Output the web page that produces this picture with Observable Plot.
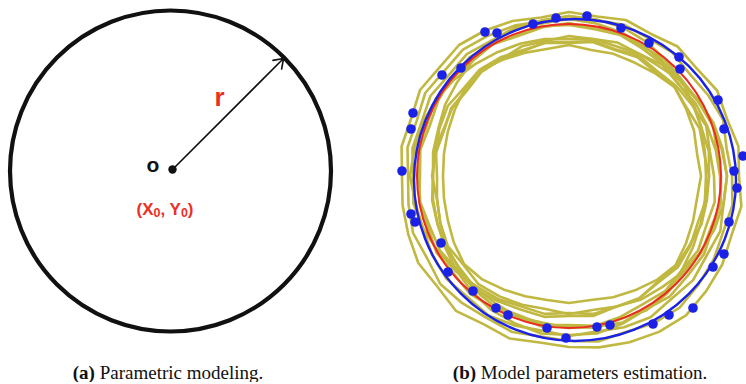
<!DOCTYPE html>
<html>
<head>
<meta charset="utf-8">
<script src="https://cdn.jsdelivr.net/npm/d3@7"></script>
<script src="https://cdn.jsdelivr.net/npm/@observablehq/plot@0.6"></script>
<style>
  html, body { margin: 0; padding: 0; background: #fff; }
  #row { display: flex; width: 746px; }
  .panel { width: 373px; }
  .cap {
    font-family: "Liberation Serif", "Times New Roman", serif;
    font-size: 19px; line-height: 19px; padding-top: 11px;
    color: #111; text-align: center; white-space: nowrap;
  }
</style>
</head>
<body>
<div id="row">
  <div class="panel" id="pa"></div>
  <div class="panel" id="pb"></div>
</div>
<script>
// ---------- (a) parametric model: centre (X0, Y0) and radius r ----------
const modelCircle = [{x: 0, y: 0, r: 160.5}];
const centreDot = [{x: 2, y: 1.5}];
const radiusArrow = [{x1: 2, y1: 1.5, x2: 113, y2: 112.5}];
const modelLabels = [
  {x: -17.5, y: 5.5, text: "o", color: "#111", size: 21},
  {x: 49, y: 73.5, text: "r", color: "#ec2f25", size: 26},
  {x: -5.5, y: -39, text: "(X0, Y0)", color: "#ec2f25", size: 17}
];

// ---------- (b) estimation: fitted circles, edge points, traced contours ----------
const fittedCircle = [{x: 0, y: 0, r: 161}];        // blue fit
const referenceCircle = [{x: -6, y: 4, r: 152}];    // red reference
const edgeX = [-90, -78, -42, -19, 12, 46, 74, 104, 105, 143, 149, 168, 159, 162, 154, 149, 138, 118, 94, 78,
               35, 22, -9, -28, -67, -79, -102, -127, -134, -160, -164, -173, -164, -162, -133, -114];
const edgeY = [148, 147, 156, 162, 164, 152, 137, 123, 111, 80, 51, 24, 9, -8, -42, -74, -87, -128, -135, -144,
               -145, -147, -158, -148, -135, -128, -111, -92, -63, -42, -34, 9, 51, 67, 105, 112];

// traced contours: radius every 10 degrees (from east, anticlockwise) around the reference centre
const contourCentre = {x: -6, y: 4};
const contourRadii = [
  [170,172,168,171,167,169,164,166,162,164,161,165,168,171,169,172,168,170,167,169,171,174,172,176,171,173,169,171,174,177,180,182,179,177,173,175],
  [163,160,164,161,158,161,159,161,158,160,157,160,162,165,163,166,162,164,161,163,166,164,168,166,164,166,163,165,168,166,170,172,169,167,164,166],
  [158,155,152,149,146,148,150,153,155,157,155,158,156,159,157,160,157,159,156,158,155,158,160,158,161,159,157,160,158,161,163,160,162,159,161,157],
  [152,150,153,150,148,151,149,152,150,153,151,149,152,150,153,151,148,151,149,152,150,153,151,154,152,150,153,151,154,152,155,153,150,153,151,154],
  [158,156,154,150,147,142,141,138,139,137,139,141,143,146,150,153,156,157,159,156,155,151,148,144,142,139,140,137,140,139,143,145,149,152,155,157],
  [137,138,141,143,148,151,155,158,159,160,158,157,154,150,146,143,139,138,136,138,140,143,147,151,155,157,160,159,160,157,154,151,147,143,140,138],
  [151,149,147,146,143,145,141,142,139,140,137,138,135,136,133,135,134,137,136,139,140,142,143,146,147,150,149,152,153,156,154,157,155,156,153,154],
  [140,137,139,136,138,135,137,134,136,133,135,134,137,139,137,140,138,135,137,134,137,140,138,141,139,137,135,138,136,139,141,139,142,140,137,139],
  [132,130,133,135,138,134,131,130,128,131,129,131,134,138,136,132,129,127,126,127,129,133,137,135,131,128,126,127,126,129,132,136,139,135,132,130],
  [140,142,141,144,143,146,147,150,149,151,152,150,153,155,152,154,151,153,150,151,148,149,146,147,144,142,143,140,142,139,141,138,140,139,141,140],
  [145,143,146,142,140,137,139,135,137,134,136,133,135,137,134,136,133,135,132,134,137,141,144,148,150,148,151,149,152,150,148,150,147,149,146,148]
];

const COLORS = {ink: "#111", blue: "#1b22e6", red: "#ec2a22", olive: "#c0b840"};

const contours = contourRadii.flatMap((radii, loop) =>
  radii.map((r, k) => {
    const a = (k * 10) * Math.PI / 180;
    return {loop, x: contourCentre.x + r * Math.cos(a), y: contourCentre.y + r * Math.sin(a)};
  })
);
const edgePoints = edgeX.map((x, i) => ({x, y: edgeY[i]}));

const W = 373, H = 352;
const common = {
  width: W, height: H,
  marginTop: 0, marginRight: 0, marginBottom: 0, marginLeft: 0,
  r: {type: "identity"},
  style: {background: "#fff", overflow: "visible"}
};

const plotA = Plot.plot({
  ...common,
  x: {axis: null, domain: [-170, 203]},
  y: {axis: null, domain: [-181.5, 170.5]},
  marks: [
    Plot.dot(modelCircle, {x: "x", y: "y", r: "r", stroke: COLORS.ink, strokeWidth: 4.2, fill: "none"}),
    Plot.arrow(radiusArrow, {x1: "x1", y1: "y1", x2: "x2", y2: "y2", stroke: COLORS.ink, strokeWidth: 1.6, headLength: 10, headAngle: 70}),
    Plot.dot(centreDot, {x: "x", y: "y", r: 4.2, fill: COLORS.ink}),
    Plot.text(modelLabels, {x: "x", y: "y", text: "text", fill: "color", fontSize: "size",
      fontWeight: "bold", fontFamily: "Liberation Sans, Arial, sans-serif"})
  ]
});

// the zeros of the centre label are set as smaller, lowered digits
plotA.querySelectorAll("text").forEach((t) => {
  if (t.textContent === "(X0, Y0)") {
    t.innerHTML = "(X<tspan font-size='12.5' dy='2'>0</tspan><tspan dy='-2'>, Y</tspan><tspan font-size='12.5' dy='2'>0</tspan><tspan dy='-2'>)</tspan>";
  }
});

const plotB = Plot.plot({
  ...common,
  x: {axis: null, domain: [-201.5, 171.5]},
  y: {axis: null, domain: [-172.5, 179.5]},
  marks: [
    Plot.line(contours, {x: "x", y: "y", z: "loop", curve: "linear-closed", stroke: COLORS.olive, strokeWidth: 2.6}),
    Plot.dot(referenceCircle, {x: "x", y: "y", r: "r", stroke: COLORS.red, strokeWidth: 2, fill: "none"}),
    Plot.dot(fittedCircle, {x: "x", y: "y", r: "r", stroke: COLORS.blue, strokeWidth: 2.4, fill: "none"}),
    Plot.dot(edgePoints, {x: "x", y: "y", r: 4.8, fill: COLORS.blue})
  ]
});

document.getElementById("pa").append(plotA);
document.getElementById("pb").append(plotB);

const capA = document.createElement("div");
capA.className = "cap";
capA.style.paddingRight = "37px";
capA.innerHTML = "<b>(a)</b> Parametric modeling.";
document.getElementById("pa").append(capA);

const capB = document.createElement("div");
capB.className = "cap";
capB.style.paddingLeft = "41px";
capB.innerHTML = "<b>(b)</b> Model parameters estimation.";
document.getElementById("pb").append(capB);
</script>
</body>
</html>
